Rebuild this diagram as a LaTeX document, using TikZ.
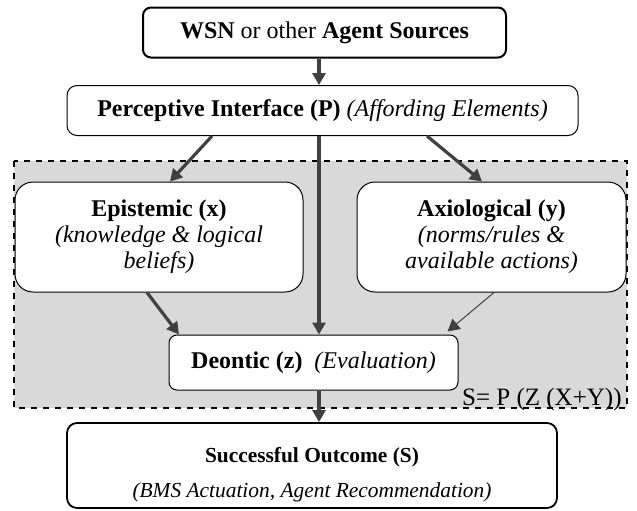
\documentclass[tikz,border=0pt]{standalone}
\usepackage{fontspec}
\setmainfont{Liberation Serif}
\usetikzlibrary{arrows.meta}
\definecolor{shade}{RGB}{217,217,217}
\definecolor{arrowgray}{RGB}{64,64,64}
\tikzset{
	box/.style={draw, fill=white, align=center, inner sep=0pt, rounded corners=4pt, font=\fontsize{12}{13}\selectfont},
	arr/.style={draw=arrowgray, line width=1.6pt, -{Triangle[width=6.5pt,length=6pt]}},
	thinarr/.style={draw=arrowgray, line width=0.5pt, -{Triangle[width=6.5pt,length=6pt]}},
}
\begin{document}
\begin{tikzpicture}[x=0.5pt,y=-0.5pt]
	\useasboundingbox (0,0) rectangle (637,510);
	\draw[fill=shade, dashed, line width=0.8pt] (14,161) rectangle (627,408);
	\node[box, line width=1pt, minimum width=181.5pt, minimum height=25pt] (wsn) at (324.5,32.5) {\textbf{WSN} or other \textbf{Agent Sources}};
	\node[box, line width=0.5pt, rounded corners=5pt, minimum width=255.5pt, minimum height=25pt] (perc) at (322.5,110.5) {\textbf{Perceptive Interface (P)} \textit{(Affording Elements)}};
	\node[box, line width=0.5pt, rounded corners=9pt, minimum width=144pt, minimum height=55pt] (ep) at (159,237) {\textbf{Epistemic (x)}\\ \textit{(knowledge \& logical}\\ \textit{beliefs)}};
	\node[box, line width=0.5pt, rounded corners=9pt, minimum width=134.5pt, minimum height=55pt] (ax) at (491.5,237) {\textbf{Axiological (y)}\\ \textit{(norms/rules \&}\\ \textit{available actions)}};
	\node[box, line width=0.5pt, minimum width=144.5pt, minimum height=27.5pt] (deon) at (313.5,362.5) {\textbf{Deontic (z)}\ \ \textit{(Evaluation)}};
	\node[box, line width=0.9pt, rounded corners=5pt, minimum width=245pt, minimum height=42.5pt, font=\fontsize{10.7}{13}\selectfont] (succ) at (312,465.5) {\rule{0pt}{16.5pt}\textbf{Successful Outcome (S)}\\[4.5pt] \textit{(BMS Actuation, Agent Recommendation)}};
	\node[anchor=base east, inner sep=0pt, font=\fontsize{12.5}{14}\selectfont] (formula) at (622,405) {S= P (Z (X+Y))};
	\coordinate (mid) at (319,0);
	\draw[arr] (wsn.south -| mid) -- (perc.north -| mid);
	\draw[arr] ([xshift=-55.25pt]perc.south) -- ([xshift=5.5pt]ep.north);
	\draw[arr] ([xshift=52.25pt]perc.south) -- ([xshift=-4.75pt]ax.north);
	\draw[arr] (perc.south -| mid) -- (deon.north -| mid);
	\draw[arr] ([xshift=-6pt]ep.south) -- ([xshift=-67.25pt]deon.north);
	\draw[thinarr] ([xshift=1.25pt]ax.south) -- ([xshift=-5.5pt,yshift=1.5pt]deon.north east);
	\draw[arr] (deon.south -| mid) -- (succ.north -| mid);
\end{tikzpicture}
\end{document}
